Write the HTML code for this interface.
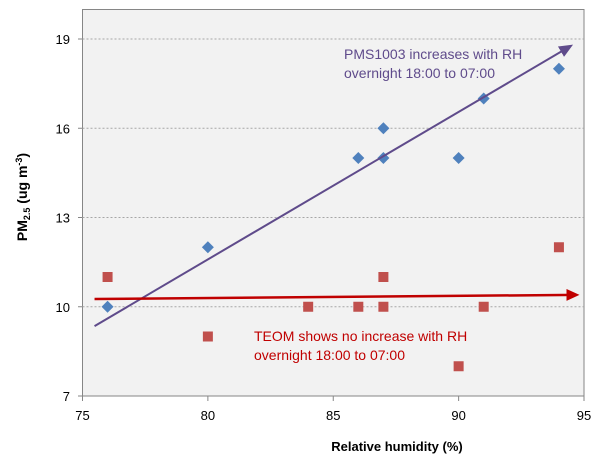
<!DOCTYPE html>
<html><head><meta charset="utf-8"><style>
body{margin:0;background:#fff;}
svg text{font-family:"Liberation Sans",sans-serif;}
</style></head><body>
<svg id="chart" width="600" height="462" xmlns="http://www.w3.org/2000/svg">
<defs>
<marker id="ap" markerWidth="14" markerHeight="12" refX="11" refY="6" orient="auto" markerUnits="userSpaceOnUse" viewBox="0 0 14 12"><path d="M0,0 L14,6 L0,12 z" fill="#5f4b8b"/></marker>
<marker id="ar" markerWidth="13" markerHeight="12" refX="10" refY="6" orient="auto" markerUnits="userSpaceOnUse" viewBox="0 0 13 12"><path d="M0,0 L13,6 L0,12 z" fill="#c00000"/></marker>
</defs>
<rect x="82.5" y="9.5" width="501.5" height="386.5" fill="#f2f2f2" stroke="#868686" stroke-width="1"/>
<g id="grid"></g><g id="ticks"></g><g id="marks"></g>
<text x="344" y="59" font-size="14" fill="#5f4b8b">PMS1003 increases with RH</text>
<text x="344" y="78" font-size="14" fill="#5f4b8b">overnight 18:00 to 07:00</text>
<text x="254" y="341" font-size="14" fill="#c00000">TEOM shows no increase with RH</text>
<text x="254" y="360" font-size="14" fill="#c00000">overnight 18:00 to 07:00</text>
<text x="397" y="451" font-size="13" font-weight="bold" text-anchor="middle" fill="#000">Relative humidity (%)</text>
<text transform="translate(27,197) rotate(-90)" font-size="14" font-weight="bold" text-anchor="middle" fill="#000">PM<tspan font-size="9" dy="3">2.5</tspan><tspan dy="-3"> (ug m</tspan><tspan font-size="9" dy="-5">-3</tspan><tspan dy="5">)</tspan></text>
</svg>
<script>
const xTicks=[75,80,85,90,95];
const yTicks=[7,10,13,16,19];
const pmsX=[76,80,86,87,87,90,91,94];
const pmsY=[10,12,15,15,16,15,17,18];
const teomX=[76,80,84,86,87,87,90,91,94];
const teomY=[11,9,10,10,10,11,8,10,12];
const pmsTrend=[[75.48,9.35],[94.46,18.76]];
const teomTrend=[[75.48,10.26],[94.7,10.40]];
const NS='http://www.w3.org/2000/svg';
const sx=v=>82.5+(v-75)*25.075;
const sy=v=>396-(v-7)*29.75;
function mk(t,a,p){const e=document.createElementNS(NS,t);for(const k in a)e.setAttribute(k,a[k]);p.appendChild(e);return e;}
const grid=document.getElementById('grid'),ticks=document.getElementById('ticks'),marks=document.getElementById('marks');
yTicks.forEach(v=>{
 if(v>7){const g=mk('line',{x1:82.5,x2:584,y1:sy(v),y2:sy(v),stroke:'#a6a6a6','stroke-dasharray':'2,2'},grid);
 
 }
 const tk=mk('line',{x1:78,x2:82.5,y1:sy(v),y2:sy(v),stroke:'#868686'},ticks);
 
 
 const t=mk('text',{x:70,y:sy(v)+5,'font-size':13,'text-anchor':'end',fill:'#000'},ticks);t.textContent=v;
 
 
});
xTicks.forEach(v=>{
 const tk=mk('line',{x1:sx(v),x2:sx(v),y1:396,y2:401,stroke:'#868686'},ticks);
 
 
 const t=mk('text',{x:sx(v),y:420,'font-size':13,'text-anchor':'middle',fill:'#000'},ticks);t.textContent=v;
 
 
});
pmsX.forEach((x,i)=>{const cx=sx(x),cy=sy(pmsY[i]);
 const p=mk('path',{d:`M${cx},${cy-6} L${cx+6},${cy} L${cx},${cy+6} L${cx-6},${cy} Z`,fill:'#4f81bd'},marks);
 
 });
teomX.forEach((x,i)=>{const cx=sx(x),cy=sy(teomY[i]);
 const r=mk('rect',{x:cx-5,y:cy-5,width:10,height:10,fill:'#c0504d'},marks);
 
 });
const l1=mk('line',{x1:sx(pmsTrend[0][0]),y1:sy(pmsTrend[0][1]),x2:sx(pmsTrend[1][0]),y2:sy(pmsTrend[1][1]),stroke:'#5f4b8b','stroke-width':2,'marker-end':'url(#ap)'},marks);


const l2=mk('line',{x1:sx(teomTrend[0][0]),y1:sy(teomTrend[0][1]),x2:sx(teomTrend[1][0]),y2:sy(teomTrend[1][1]),stroke:'#c00000','stroke-width':2.5,'marker-end':'url(#ar)'},marks);


</script>
</body></html>
